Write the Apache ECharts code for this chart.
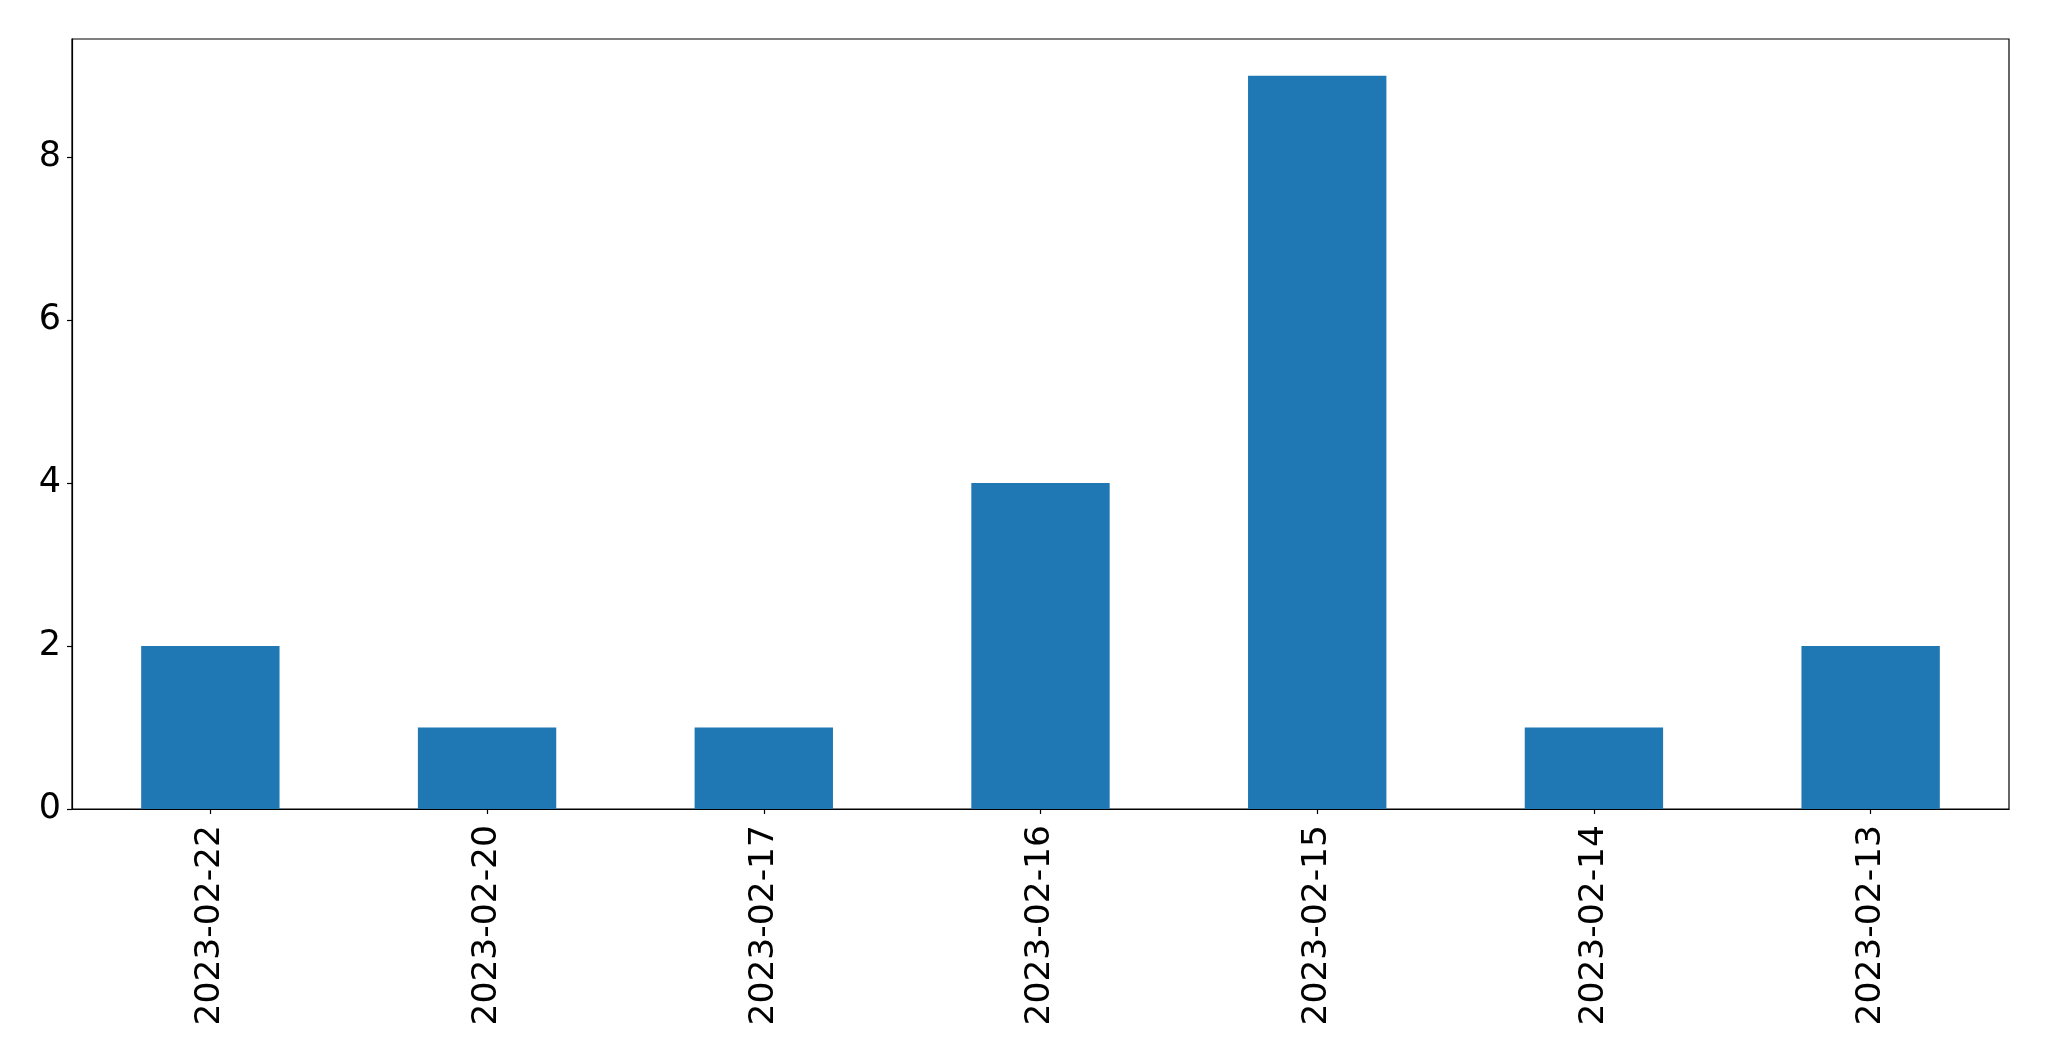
<!DOCTYPE html>
<html>
<head>
<meta charset="utf-8">
<script src="https://cdn.jsdelivr.net/npm/echarts@6/dist/echarts.min.js"></script>
<style>
html,body{margin:0;padding:0;background:#fff;}
#chart{width:2049px;height:1061px;}
</style>
</head>
<body>
<div id="chart"></div>
<script>
const categories = ["2023-02-22","2023-02-20","2023-02-17","2023-02-16","2023-02-15","2023-02-14","2023-02-13"];
const values = [2, 1, 1, 4, 9, 1, 2];
const yTicks = [0, 2, 4, 6, 8];

const chart = echarts.init(document.getElementById('chart'), null, {renderer: 'canvas'});
chart.setOption({
  animation: false,
  backgroundColor: '#fff',
  grid: {left: 72, top: 39, right: 40, bottom: 252, show: true, borderColor: '#000', borderWidth: 1.2, backgroundColor: 'transparent'},
  xAxis: {
    type: 'category',
    data: categories,
    boundaryGap: true,
    axisLine: {show: true, lineStyle: {color: '#000', width: 1.2}},
    axisTick: {show: true, alignWithLabel: true, length: 5, lineStyle: {color: '#000', width: 1.2}},
    axisLabel: {rotate: 90, margin: 16, color: '#000', fontSize: 34.5, fontFamily: 'DejaVu Sans'},
    splitLine: {show: false}
  },
  yAxis: {
    type: 'value',
    min: 0,
    max: 9.45,
    interval: 2,
    axisLine: {show: true, lineStyle: {color: '#000', width: 1.2}},
    axisTick: {show: true, length: 5, lineStyle: {color: '#000', width: 1.2}},
    axisLabel: {
      showMaxLabel: false,
      margin: 11, color: '#000', fontSize: 35, fontFamily: 'DejaVu Sans',
      padding: [6, 0, 0, 0],
      formatter: function (v) { return yTicks.indexOf(v) >= 0 ? String(v) : ''; }
    },
    splitLine: {show: false}
  },
  series: [{
    type: 'bar',
    data: values,
    barWidth: '50%',
    itemStyle: {color: '#1f77b4'}
  }]
});
</script>
</body>
</html>
